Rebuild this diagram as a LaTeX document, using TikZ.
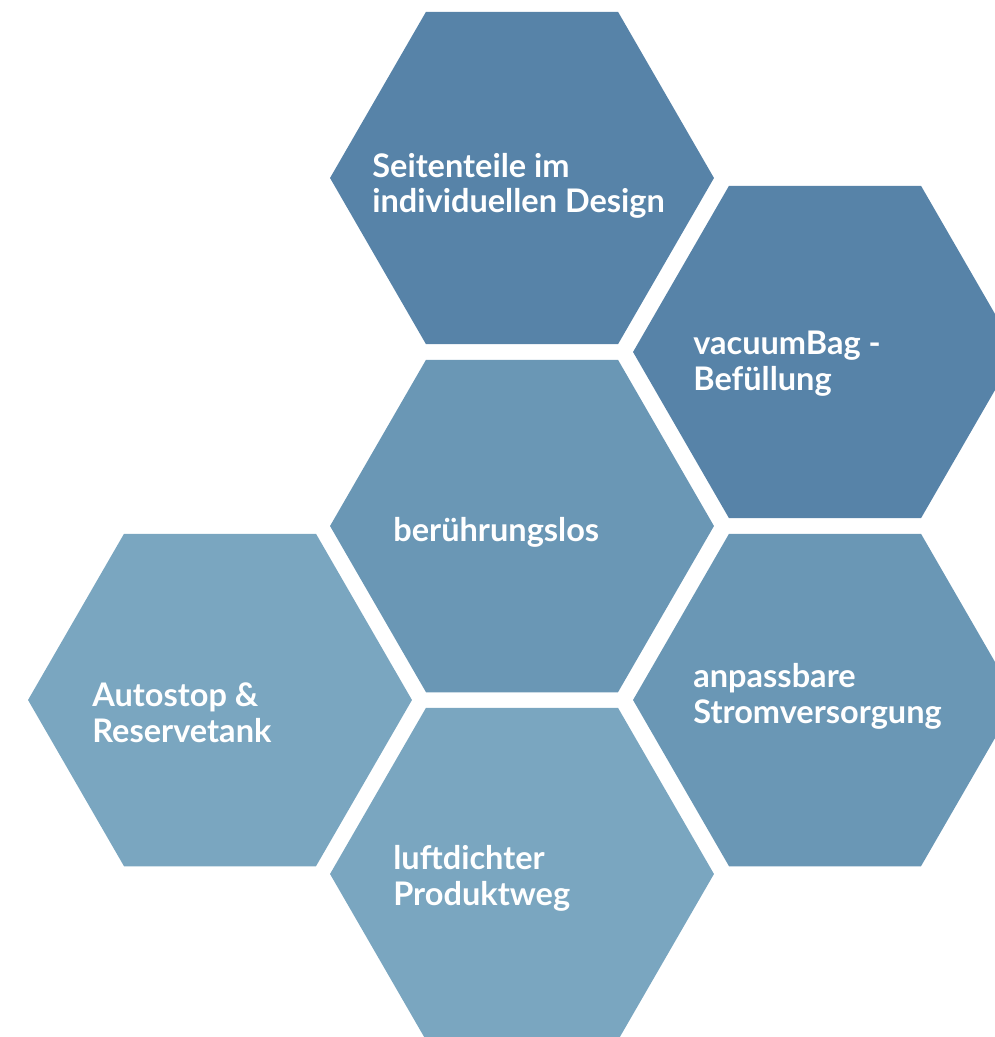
\documentclass[tikz,border=0pt]{standalone}
\usepackage{fontspec}
\setmainfont{Lato}
\usetikzlibrary{shapes.geometric}
\definecolor{hexdark}{HTML}{5783A8}
\definecolor{hexmid}{HTML}{6A97B5}
\definecolor{hexlight}{HTML}{7AA6C0}
\tikzset{
  hexa/.style={regular polygon, regular polygon sides=6, minimum size=7.68cm,
    inner sep=0pt, outer sep=0pt, draw=none},
  hextext/.style={anchor=base west, align=left, text=white, inner sep=0pt,
    font=\fontsize{18.5}{20.4}\selectfont\bfseries}
}

\begin{document}
\begin{tikzpicture}[x=0.02cm, y=-0.02cm]

\useasboundingbox (0,0) rectangle (994,1037);

% Hexagons, top row first
\node[hexa, fill=hexdark] (seiten) at (522,178) {};
\node[hexa, fill=hexdark] (vacuum) at (825,352) {};
\node[hexa, fill=hexmid] (kontakt) at (522,526) {};
\node[hexa, fill=hexmid] (strom) at (825,700) {};
\node[hexa, fill=hexlight] (autostop) at (220,700) {};
\node[hexa, fill=hexlight] (luft) at (522,874) {};

% Labels (base = last line)
\node[hextext] (seitentxt) at (372,213) {Seitenteile im\\individuellen Design};
\node[hextext] (vacuumtxt) at (693,390) {vacuumBag -\\Befüllung};
\node[hextext] (kontakttxt) at (393,541) {berührungslos};
\node[hextext] (stromtxt) at (693,723) {anpassbare\\Stromversorgung};
\node[hextext] (autostoptxt) at (92,742) {Autostop \&\\Reservetank};
\node[hextext] (lufttxt) at (393,905) {luftdichter\\Produktweg};

\end{tikzpicture}
\end{document}
